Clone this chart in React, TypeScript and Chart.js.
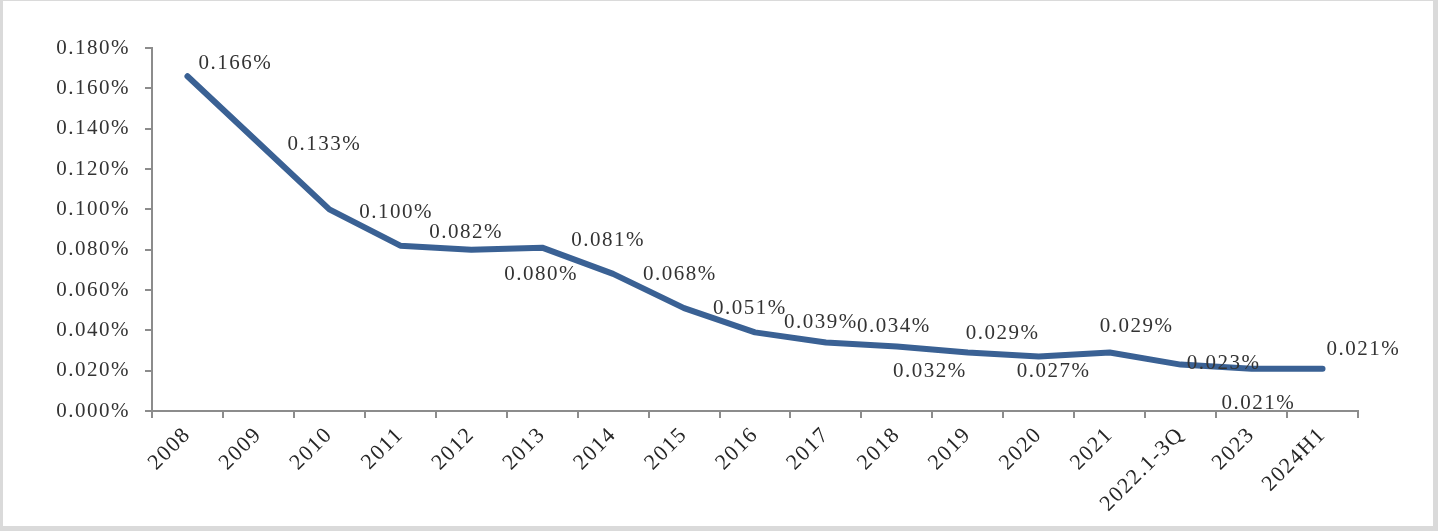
import React, { useEffect, useRef } from "react";
import { Chart, registerables } from "chart.js";

Chart.register(...registerables);

const categories = [
  "2008", "2009", "2010", "2011", "2012", "2013", "2014", "2015", "2016",
  "2017", "2018", "2019", "2020", "2021", "2022.1-3Q", "2023", "2024H1",
];

const ratioValues = [
  0.166, 0.133, 0.1, 0.082, 0.08, 0.081, 0.068, 0.051, 0.039,
  0.034, 0.032, 0.029, 0.027, 0.029, 0.023, 0.021, 0.021,
];

const yTickValues = [0, 0.02, 0.04, 0.06, 0.08, 0.1, 0.12, 0.14, 0.16, 0.18];

const FONT = '"Liberation Serif", "Times New Roman", serif';
const LINE_COLOR = "#3a6194";
const AXIS_COLOR = "#8c8c8c";

// label placement relative to the point (left edge dx, vertical centre dy)
const labelPlacement: [number, number][] = [
  [11, -13], [29, 2], [30, 3], [29, -13], [33, 25], [29, -7], [30, 1], [29, 0], [29, -10],
  [31, -16], [-4, 25], [-2, -19], [-22, 15], [-10, -26], [6, -1], [-30, 35], [4, -19],
];

const spacingPlugin = {
  id: "spacing",
  beforeUpdate(chart: any) {
    chart.ctx.letterSpacing = "1.5px";
  },
  beforeDraw(chart: any) {
    chart.ctx.letterSpacing = "1.5px";
  },
};

const labelPlugin = {
  id: "pointLabels",
  afterDatasetsDraw(chart: any) {
    const ctx = chart.ctx;
    const meta = chart.getDatasetMeta(0);
    ctx.save();
    ctx.letterSpacing = "1.5px";
    ctx.font = `21px ${FONT}`;
    ctx.fillStyle = "#333333";
    ctx.textAlign = "left";
    ctx.textBaseline = "middle";
    meta.data.forEach((pt: any, i: number) => {
      const [dx, dy] = labelPlacement[i];
      ctx.fillText(ratioValues[i].toFixed(3) + "%", pt.x + dx, pt.y + dy);
    });
    ctx.restore();
  },
};

export default function App() {
  const canvasRef = useRef<HTMLCanvasElement | null>(null);

  useEffect(() => {
    const canvas = canvasRef.current;
    if (!canvas) return;
    const chart = new Chart(canvas, {
      type: "line",
      data: {
        labels: categories,
        datasets: [
          {
            data: ratioValues,
            borderColor: LINE_COLOR,
            borderWidth: 6,
            pointRadius: 0,
            tension: 0,
            borderJoinStyle: "round",
            borderCapStyle: "round",
            fill: false,
          },
        ],
      },
      options: {
        responsive: false,
        animation: false,
        maintainAspectRatio: false,
        layout: { padding: { left: 0, right: 80, top: 48, bottom: 0 } },
        plugins: {
          legend: { display: false },
          tooltip: { enabled: false },
          title: { display: false },
        },
        scales: {
          x: {
            type: "category",
            offset: true,
            grid: {
              offset: true,
              drawOnChartArea: false,
              drawTicks: true,
              tickLength: 7,
              color: AXIS_COLOR,
              lineWidth: 2,
            },
            border: { display: true, color: AXIS_COLOR, width: 2 },
            ticks: {
              autoSkip: false,
              maxRotation: 45,
              minRotation: 45,
              padding: 4,
              color: "#262626",
              font: { family: FONT, size: 22 },
            },
            afterFit(scale: any) {
              scale.height = 120;
            },
          },
          y: {
            min: 0,
            max: 0.18,
            afterBuildTicks(scale: any) {
              scale.ticks = yTickValues.map((v) => ({ value: v }));
            },
            grid: {
              drawOnChartArea: false,
              drawTicks: true,
              tickLength: 7,
              color: AXIS_COLOR,
              lineWidth: 2,
            },
            border: { display: true, color: AXIS_COLOR, width: 2 },
            ticks: {
              padding: 15,
              color: "#333333",
              font: { family: FONT, size: 21 },
              callback: (v: any) => Number(v).toFixed(3) + "%",
            },
            afterFit(scale: any) {
              scale.width = 152;
            },
          },
        },
      },
      plugins: [spacingPlugin, labelPlugin],
    });
    return () => chart.destroy();
  }, []);

  return (
    <div
      style={{
        position: "fixed",
        left: 0,
        top: 0,
        width: 1438,
        height: 531,
        background: "#ffffff",
        boxShadow: "inset 3px 1px 0 #dadada, inset -5px -5px 0 #dadada",
      }}
    >
      <canvas
        ref={canvasRef}
        width={1438}
        height={531}
        style={{ position: "absolute", left: 0, top: 0, width: 1438, height: 531 }}
      />
    </div>
  );
}
